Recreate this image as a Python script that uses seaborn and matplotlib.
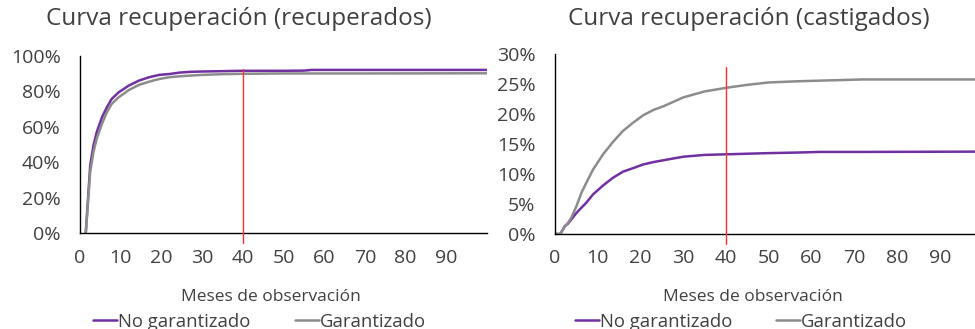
import numpy as np
import pandas as pd
import matplotlib
matplotlib.use("Agg")
import matplotlib.pyplot as plt
from matplotlib.lines import Line2D
from matplotlib.ticker import PercentFormatter, MultipleLocator
import seaborn as sns

# datos (meses, % acumulado)
meses_rec = [1.4, 2.5, 3.3, 4.1, 5.4, 6.6, 7.8, 9.5, 12, 14.5, 17, 19.5, 22, 24.5, 27,
             30, 35, 40, 50, 55, 57, 70, 100]
rec_no_garant = [0, 38.3, 49.5, 57, 65.4, 71, 75.7, 79.4, 83.2, 86, 87.9, 89.2, 89.7, 90.5, 90.9,
                 91.1, 91.3, 91.5, 91.5, 91.6, 92.0, 92.0, 92.0]
rec_garant = [0, 34.6, 45.8, 53.3, 61.7, 68.2, 72.9, 76.6, 80.7, 83.6, 85.4, 86.9, 87.9, 88.4, 88.8,
              89.2, 89.6, 89.8, 90.0, 90.0, 90.0, 90.0, 90.1]

meses_cas = [0, 1.25, 2.3, 3.0, 3.8, 5, 6.2, 7.3, 8.9, 11.25, 13.6, 15.9, 18.3, 20.6, 23, 25.3,
             30, 35, 40, 45, 50, 57, 62, 72, 100]
cas_no_garant = [0, 0, 1.3, 1.7, 2.4, 3.5, 4.4, 5.2, 6.6, 8.1, 9.4, 10.4, 11.0, 11.6, 12.0, 12.3,
                 12.9, 13.2, 13.3, 13.4, 13.5, 13.6, 13.7, 13.7, 13.75]
cas_garant = [0, 0, 1.3, 1.8, 2.7, 4.6, 6.9, 8.5, 10.75, 13.3, 15.4, 17.2, 18.6, 19.8, 20.7, 21.3,
              22.8, 23.8, 24.4, 24.9, 25.3, 25.5, 25.6, 25.8, 25.8]

series = ["No garantizado", "Garantizado"]
colores = {"No garantizado": "#7030A0", "Garantizado": "#8C8C8C"}
corte = 40

def armar(meses, a, b):
    return pd.concat([
        pd.DataFrame({"mes": meses, "valor": np.array(a) / 100, "serie": series[0]}),
        pd.DataFrame({"mes": meses, "valor": np.array(b) / 100, "serie": series[1]}),
    ])

df_rec = armar(meses_rec, rec_no_garant, rec_garant)
df_cas = armar(meses_cas, cas_no_garant, cas_garant)

sns.set_style("white")
plt.rcParams['font.family'] = ['Open Sans', 'DejaVu Sans']
gris = "#404040"

fig = plt.figure(figsize=(9.75, 3.29), dpi=100)
ax1 = fig.add_axes([0.0821, 0.2909, 0.4174, 0.5398])
ax2 = fig.add_axes([0.5692, 0.2888, 0.4385, 0.5462])

for ax, df, ymax, paso, red_top in [(ax1, df_rec, 1.0, 0.2, 0.925), (ax2, df_cas, 0.30, 0.05, 0.93)]:
    sns.lineplot(data=df, x="mes", y="valor", hue="serie", hue_order=series,
                 palette=colores, linewidth=1.8, ax=ax, legend=False)
    # linea de corte en el mes 40
    ax.plot([corte, corte], [-0.055, red_top], color="#FF3030", lw=1.0,
            transform=ax.get_xaxis_transform(), clip_on=False, zorder=5)
    ax.set_xlim(0, 100)
    ax.set_ylim(0, ymax)
    ax.yaxis.set_major_locator(MultipleLocator(paso))
    ax.yaxis.set_major_formatter(PercentFormatter(1.0, decimals=0))
    ax.set_xticks(range(0, 100, 10))
    ax.xaxis.set_minor_locator(MultipleLocator(5))
    ax.tick_params(axis="both", which="both", direction="out", length=5, width=1,
                   color="black", labelcolor=gris, labelsize=14)
    ax.tick_params(axis="x", pad=6)
    ax.tick_params(axis="y", pad=9)
    sns.despine(ax=ax)
    for s in ["left", "bottom"]:
        ax.spines[s].set_color("black")
        ax.spines[s].set_linewidth(1)
    ax.set_xlabel("")
    ax.set_ylabel("")

titulos = [("Curva recuperación (recuperados)", 0.245), ("Curva recuperación (castigados)", 0.768)]
for texto, xc in titulos:
    fig.text(xc, 0.98, texto, ha="center", va="top", fontsize=17.5, color=gris)

for xc in [0.278, 0.772]:
    fig.text(xc, 0.097, "Meses de observación", ha="center", va="center", fontsize=12.5, color=gris)
    handles = [Line2D([], [], color=colores[s], lw=1.8) for s in series]
    fig.legend(handles, series, loc="center", bbox_to_anchor=(xc - 0.012, 0.022), ncol=2,
               frameon=False, fontsize=13.3, handlelength=1.3, handletextpad=0.05,
               columnspacing=2.4, labelcolor=gris, borderaxespad=0, borderpad=0)

fig.savefig("out.png", dpi=100)
